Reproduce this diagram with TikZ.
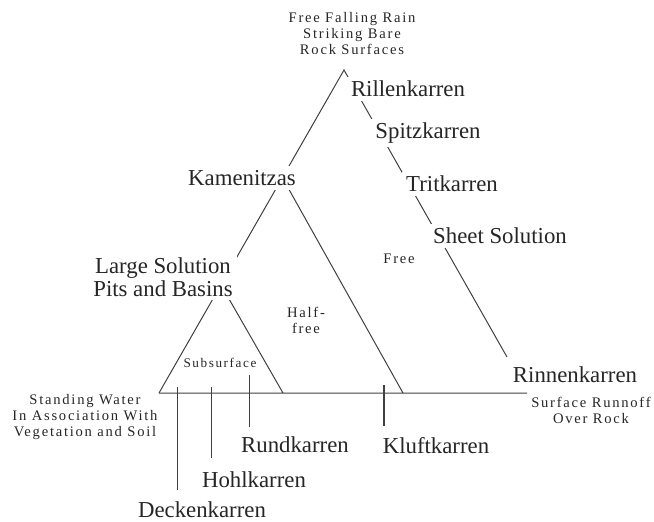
\documentclass[tikz,border=0pt]{standalone}
\usepackage{fontspec}
\setmainfont{Liberation Serif}
\newfontfamily\spacedfont[LetterSpace=12]{Liberation Serif}
\usepackage{tikz}
\tikzset{
  karren/.style={fill=white,inner sep=2pt,align=center,text=black!85,
    font=\fontsize{11.4}{11.2}\selectfont},
  water/.style={inner sep=1pt,align=center,text=black!85,
    font=\spacedfont\fontsize{7.3}{8}\selectfont},
  sideline/.style={line width=0.5pt,draw=black!75},
  dropline/.style={line width=0.5pt,draw=black!75}
}
\newcommand{\knode}[4]{\node[karren] (#3) at (#1,#2) {#4};}
\newcommand{\wnode}[4]{\node[water] (#3) at (#1,#2) {#4};}
\newcommand{\drop}[4]{\coordinate (#3a) at (#1,#2); \coordinate (#3b) at (#1,#4);
  \draw[dropline] (#3a) -- (#3b);}

\begin{document}
\begin{tikzpicture}[x=5pt,y=-5pt]
	\useasboundingbox (0,0) rectangle (65.4,52.1);
	% corners of the triangles
	\coordinate (apex) at (34.4,7.0); \coordinate (rend) at (50.7,35.7);
	\coordinate (bl) at (15.9,39.3); \coordinate (br) at (52.7,39.3);
	\coordinate (kap) at (28.2,17.7); \coordinate (kbase) at (40.3,39.3);
	\coordinate (sap) at (22.1,28.5); \coordinate (sbase) at (28.3,39.3);
	\draw[sideline] (bl) -- (apex) -- (rend);
	\draw[sideline] (kap) -- (kbase) (sap) -- (sbase) (bl) -- (br);
	\drop{17.7}{38.7}{deck}{49.0} \drop{21.1}{38.7}{hohl}{45.8}
	\drop{24.9}{37.5}{rund}{42.7}
	\draw[dropline,line width=1.1pt] (38.4,38.5) coordinate (klufta) -- (38.4,42.6) coordinate (kluftb);
	% labels
	\wnode{35.2}{3.35}{rain}{Free Falling Rain\\Striking Bare\\Rock Surfaces}
	\knode{40.8}{8.9}{rillen}{Rillenkarren} \knode{42.8}{13.3}{spitz}{Spitzkarren}
	\knode{45.2}{18.4}{trit}{Tritkarren} \knode{50.0}{23.6}{sheet}{Sheet Solution}
	\knode{57.5}{37.5}{rinnen}{Rinnenkarren}
	\knode{24.2}{17.8}{kamen}{Kamenitzas}
	\knode{16.3}{27.7}{large}{Large Solution\\Pits and Basins}
	\knode{29.5}{44.5}{rundk}{Rundkarren} \knode{43.6}{44.6}{kluft}{Kluftkarren}
	\knode{25.4}{48.0}{hohlk}{Hohlkarren} \knode{20.2}{51.0}{decken}{Deckenkarren}
	\wnode{39.9}{25.9}{free}{Free} \wnode{30.6}{32.0}{half}{Half-\\free}
	\wnode{22.0}{36.3}{subs}{\fontsize{6.6}{8}\selectfont Subsurface}
	\wnode{59.1}{41.0}{runoff}{Surface Runnoff\\Over Rock}
	\wnode{8.5}{41.7}{standing}{Standing Water\\In Association With\\Vegetation and Soil}
\end{tikzpicture}
\end{document}
